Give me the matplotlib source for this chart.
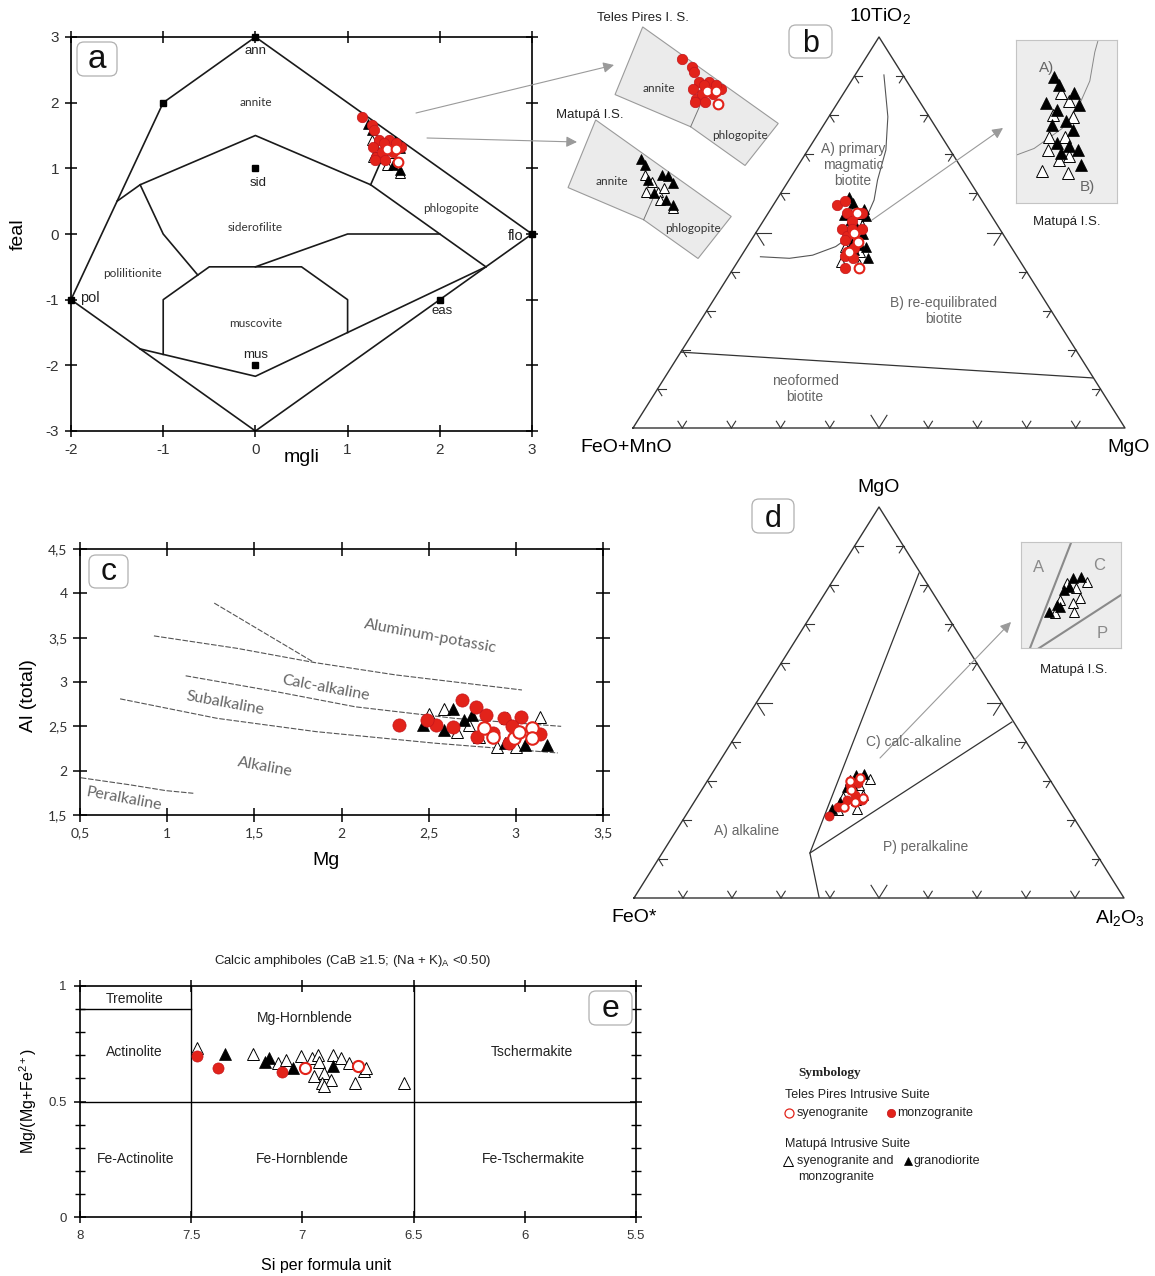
import numpy as np
import matplotlib
matplotlib.use("Agg")
import matplotlib.pyplot as plt
from matplotlib.patches import Polygon, FancyBboxPatch
from matplotlib.ticker import FuncFormatter, MultipleLocator

W, H = 1155, 1276
plt.rcParams['font.family'] = ['Liberation Sans', 'DejaVu Sans']
plt.rcParams['mathtext.fontset'] = 'custom'
plt.rcParams['mathtext.rm'] = 'Liberation Sans'
plt.rcParams['mathtext.it'] = 'Liberation Sans:italic'
plt.rcParams['axes.linewidth'] = 1.2
plt.rcParams['axes.unicode_minus'] = False

RED = '#e2231a'
GREY_TXT = '#666666'
CALIBRI = ['Lato', 'DejaVu Sans']

# ---------------- data ----------------
# (a) mgli / feal
a_tp_mz_mgli = [1.16, 1.26, 1.29, 1.34, 1.28, 1.31, 1.37, 1.45, 1.49, 1.58, 1.30, 1.41, 1.39, 1.53, 1.44]
a_tp_mz_feal = [1.78, 1.66, 1.58, 1.43, 1.33, 1.18, 1.25, 1.43, 1.25, 1.33, 1.13, 1.13, 1.38, 1.38, 1.30]
a_tp_sy_mgli = [1.43, 1.53, 1.55]
a_tp_sy_feal = [1.30, 1.30, 1.09]
a_mt_gd_mgli = [1.22, 1.27, 1.30, 1.45, 1.51, 1.57, 1.36, 1.49, 1.57]
a_mt_gd_feal = [1.67, 1.58, 1.36, 1.43, 1.41, 1.31, 1.15, 1.05, 0.97]
a_mt_sm_mgli = [1.26, 1.34, 1.41, 1.47, 1.28, 1.57, 1.43]
a_mt_sm_feal = [1.43, 1.33, 1.18, 1.23, 1.18, 0.93, 1.05]

# (a) field boundaries
a_outer = [(0, 3), (-1, 2), (-2, -1), (0, -3), (3, 0), (0, 3)]
a_upper = [(-1.5, 0.5), (-1.25, 0.75), (0, 1.5), (1.25, 0.75), (2.5, -0.5)]
a_tie = [(1.25, 0.75), (1.35, 1.07)]
a_left = [(-1.25, 0.75), (-1, 0), (-0.625, -0.625)]
a_mus = [(-1, -1.833), (-1, -1), (-0.5, -0.5), (0.5, -0.5), (1, -1), (1, -1.5)]
a_lower = [(-1.25, -1.75), (0, -2.167), (2.5, -0.5)]
a_mid = [(0, -0.5), (1, 0), (2, 0)]
a_inset_region = [(0.73, 2.27), (2.2, 0.8), (1.84, 0.16), (1.25, 0.75), (0.43, 1.24)]

a_end_names = ['ann', 'sid', 'mus', 'eas', 'flo', 'pol']
a_end_mgli = [0, 0, 0, 2, 3, -2]
a_end_feal = [3, 1, -2, -1, 0, -1]
a_sq_mgli = [-1, 0, 0, 2, 0, 3, -2]
a_sq_feal = [2, 1, -2, -1, 3, 0, -1]
a_fields = ['annite', 'siderofilite', 'phlogopite', 'polilitionite', 'muscovite']
a_field_mgli = [0.0, 0.0, 2.12, -1.33, 0.0]
a_field_feal = [2.01, 0.10, 0.39, -0.60, -1.36]

# (b) 10TiO2 - (FeO+MnO) - MgO, values in % (top = TiO2, right = MgO)
b_tp_mz_t = [57, 55, 53, 51, 51, 49, 48, 46, 45, 44, 43.5, 41, 51, 55, 58]
b_tp_mz_r = [13, 16, 18, 17, 21, 19, 19, 22, 21, 21, 23, 22.5, 19, 19, 14]
b_tp_sy_t = [55, 50, 47.5, 45, 41]
b_tp_sy_r = [18, 20, 22, 21.5, 25.5]
b_mt_gd_t = [57.6, 56.1, 54.4, 54.1, 53.2, 50.6, 51.2, 49.7, 47.3, 46.8, 46.2, 45.6, 59, 43.5]
b_mt_gd_r = [15.9, 18.8, 15.6, 20.4, 17.8, 18.4, 20.0, 21.8, 20.8, 22.7, 24.3, 22.2, 14.5, 26]
b_mt_sm_t = [56.1, 54.7, 52.3, 52.0, 46.2, 44.4, 45.0, 48.5, 48.5, 42.5, 42]
b_mt_sm_r = [16.9, 18.7, 17.7, 20.6, 20.0, 22.5, 23.6, 21.3, 19.1, 21, 25]
b_curve_x = [.510, .518, .514, .497, .490, .475, .451, .412, .365, .318, .259]
b_curve_y = [.903, .796, .711, .634, .583, .540, .499, .464, .442, .434, .438]
b_line_x = [.0976, .935]
b_line_y = [.194, .128]

# (c) Mg vs Al(total)
c_tp_mz_mg = [2.33, 2.69, 2.77, 2.54, 2.83, 2.93, 3.03, 3.14, 2.96, 2.87, 2.64, 2.78, 2.98, 2.49]
c_tp_mz_al = [2.51, 2.80, 2.72, 2.52, 2.63, 2.59, 2.60, 2.41, 2.31, 2.42, 2.49, 2.38, 2.50, 2.57]
c_tp_sy_mg = [2.82, 2.87, 2.99, 3.09, 3.09, 3.02]
c_tp_sy_al = [2.48, 2.38, 2.37, 2.48, 2.37, 2.44]
c_mt_gd_mg = [2.64, 2.59, 2.75, 2.94, 3.05, 3.18, 2.47, 2.70]
c_mt_gd_al = [2.69, 2.46, 2.63, 2.31, 2.29, 2.29, 2.52, 2.57]
c_mt_sm_mg = [2.59, 2.73, 2.89, 3.14, 2.95, 3.00, 2.79, 2.50, 2.66]
c_mt_sm_al = [2.69, 2.52, 2.27, 2.61, 2.59, 2.27, 2.38, 2.64, 2.44]
c_bounds = [
    ([0.924, 1.40, 1.843, 2.31, 3.035], [3.52, 3.38, 3.22, 3.08, 2.91]),
    ([1.27, 1.843], [3.89, 3.22]),
    ([1.106, 1.628, 2.08, 2.65, 3.26], [3.07, 2.89, 2.72, 2.59, 2.50]),
    ([0.73, 1.287, 1.855, 2.535, 3.24], [2.81, 2.59, 2.44, 2.31, 2.20]),
    ([0.505, 0.788, 0.992, 1.15], [1.92, 1.84, 1.775, 1.745]),
]
c_fields = ['Aluminum-potassic', 'Calc-alkaline', 'Subalkaline', 'Alkaline', 'Peralkaline']
c_field_mg = [2.51, 1.91, 1.33, 1.56, 0.75]
c_field_al = [3.51, 2.93, 2.76, 2.04, 1.68]

# (d) MgO - FeO* - Al2O3, values in % (top = MgO, right = Al2O3)
d_tp_mz_t = [21, 23.3, 25, 26.3, 29, 29.4, 25]
d_tp_mz_r = [29.3, 30, 31, 32, 29.6, 31, 34]
d_tp_sy_t = [30, 30.7, 27.6, 24.5, 25.6, 23.3]
d_tp_sy_r = [29, 30.8, 30.5, 32.8, 34, 31.2]
d_mt_gd_t = [22.8, 24.6, 24.1, 31.5, 31.8, 28.4, 29.2]
d_mt_gd_r = [29.1, 29.7, 30.6, 29.5, 31.1, 29.2, 29.9]
d_mt_sm_t = [30.2, 28.9, 30.5, 26.3, 25.1, 25.8, 22.8, 22.5]
d_mt_sm_r = [29.0, 31.5, 32.9, 33.5, 32.7, 29.7, 34.1, 30.4]
d_line1_x = [.5816, .359, .378]
d_line1_y = [.831, .115, 0.0]
d_line2_x = [.359, .771]
d_line2_y = [.115, .450]

# (e) amphiboles: Si vs Mg/(Mg+Fe2+)
e_tp_mz_si = [7.475, 7.379, 7.091]
e_tp_mz_mg = [0.699, 0.647, 0.627]
e_tp_sy_si = [6.987, 6.75]
e_tp_sy_mg = [0.647, 0.652]
e_mt_gd_si = [7.347, 7.148, 7.167, 7.044, 6.864]
e_mt_gd_mg = [0.705, 0.688, 0.673, 0.645, 0.655]
e_mt_sm_si = [7.475, 7.223, 7.11, 7.006, 6.958, 6.93, 6.926, 6.949, 6.902, 6.911, 6.873, 6.902,
              6.864, 6.826, 6.792, 6.722, 6.763, 6.545, 7.072, 6.712]
e_mt_sm_mg = [0.731, 0.705, 0.666, 0.695, 0.688, 0.702, 0.673, 0.612, 0.623, 0.58, 0.594, 0.565,
              0.702, 0.688, 0.666, 0.630, 0.58, 0.58, 0.681, 0.645]
e_fields = ['Tremolite', 'Actinolite', 'Mg-Hornblende', 'Tschermakite',
            'Fe-Actinolite', 'Fe-Hornblende', 'Fe-Tschermakite']
e_field_si = [7.754, 7.754, 6.99, 5.97, 7.75, 7.0, 5.96]
e_field_mg = [0.944, 0.714, 0.86, 0.714, 0.249, 0.249, 0.249]

STY = {
    'tp_sy': dict(marker='o', mfc='white', mec=RED, mew=1.5),
    'tp_mz': dict(marker='o', mfc=RED, mec='#c4161c', mew=0.5),
    'mt_sm': dict(marker='^', mfc='white', mec='black', mew=0.7),
    'mt_gd': dict(marker='^', mfc='black', mec='black', mew=0.5),
}


def pts(ax, x, y, kind, ms, z=3):
    ax.plot(x, y, ls='none', ms=ms, zorder=z, **STY[kind])


def tern(t, r):
    t = np.asarray(t) / 100.0
    r = np.asarray(r) / 100.0
    return r + t / 2, t


fig = plt.figure(figsize=(W / 100, H / 100), dpi=100)


def px_axes(l, t, r, b):
    return fig.add_axes([l / W, 1 - b / H, (r - l) / W, (b - t) / H])


# ---------------- (a) ----------------
axa = px_axes(71, 37, 532, 431)
axa.set_xlim(-2, 3)
axa.set_ylim(-3, 3)
axa.set_xticks(range(-2, 4))
axa.set_yticks(range(-3, 4))
axa.tick_params(direction='inout', length=9, width=1.1, top=True, right=True,
                labelsize=11, labelcolor='#333333', pad=4)
for seg in [a_outer, a_upper, a_tie, a_left, a_mus, a_lower, a_mid]:
    xs, ys = zip(*seg)
    axa.plot(xs, ys, color='#1a1a1a', lw=1.2, zorder=2)
axa.plot(a_sq_mgli, a_sq_feal, ls='none', marker='s', ms=5, color='black', zorder=3, clip_on=False)
lab_off = {'ann': (0, -0.21, 'center'), 'sid': (0.03, -0.22, 'center'), 'mus': (0, 0.16, 'center'),
           'eas': (0.02, -0.17, 'center'), 'flo': (-0.18, -0.03, 'center'), 'pol': (0.1, 0.02, 'left')}
for n, x, y in zip(a_end_names, a_end_mgli, a_end_feal):
    dx, dy, ha = lab_off[n]
    axa.text(x + dx, y + dy, n, fontsize=10.5 if n in ('pol', 'flo') else 9.5,
             ha=ha, va='center', color='#222222')
for n, x, y in zip(a_fields, a_field_mgli, a_field_feal):
    axa.text(x, y, n, fontsize=8.5, family=CALIBRI, ha='center', va='center', color='#333333')
pts(axa, a_mt_sm_mgli, a_mt_sm_feal, 'mt_sm', 7.5)
pts(axa, a_mt_gd_mgli, a_mt_gd_feal, 'mt_gd', 7.5)
pts(axa, a_tp_mz_mgli, a_tp_mz_feal, 'tp_mz', 7.5, z=4)
pts(axa, a_tp_sy_mgli, a_tp_sy_feal, 'tp_sy', 7, z=5)
axa.set_xlabel('mgli', fontsize=14)
axa.set_ylabel('feal', fontsize=14)
axa.xaxis.set_label_coords(0.5, -0.068)
axa.xaxis.label.set_va('center')
axa.yaxis.set_label_coords(-0.115, 0.5)
axa.yaxis.label.set_va('center')


def a_inset(dx, dy, groups):
    ax = px_axes(71 + dx, 37 + dy, 532 + dx, 431 + dy)
    ax.set_xlim(-2, 3)
    ax.set_ylim(-3, 3)
    ax.axis('off')
    ax.add_patch(Polygon(a_inset_region, closed=True, fc='#ebebeb', ec='#9a9a9a', lw=0.8))
    xs, ys = zip(*a_tie)
    ax.plot(xs, ys, color='#777777', lw=0.7)
    ax.text(0.9, 1.33, 'annite', fontsize=8.5, family=CALIBRI, ha='center', va='center', color='#333333')
    ax.text(1.78, 0.62, 'phlogopite', fontsize=8.5, family=CALIBRI, ha='center', va='center', color='#333333')
    for x, y, kind, ms in groups:
        pts(ax, x, y, kind, ms)


a_inset(320, -58, [(a_tp_mz_mgli, a_tp_mz_feal, 'tp_mz', 7.5), (a_tp_sy_mgli, a_tp_sy_feal, 'tp_sy', 7)])
a_inset(273, 35, [(a_mt_sm_mgli, a_mt_sm_feal, 'mt_sm', 7.5), (a_mt_gd_mgli, a_mt_gd_feal, 'mt_gd', 7.5)])


# ---------------- ternary helpers ----------------
def tern_frame(ax, wpx, hpx):
    ax.set_xlim(0, 1)
    ax.set_ylim(0, 1)
    ax.axis('off')
    ax.plot([0, 1, 0.5, 0], [0, 0, 1, 0], color='#333333', lw=1.0, clip_on=False)

    def arm(dx, dy, L):
        n = np.hypot(dx * wpx, dy * hpx)
        return dx * L / n, dy * L / n

    for i in range(1, 10):
        f = i / 10
        L = 15 if i == 5 else 8
        for (x0, y0), dirs in [((f, 0), [(0.5, 1), (-0.5, 1)]),
                               ((0.5 * f, f), [(1, 0), (0.5, -1)]),
                               ((1 - 0.5 * f, f), [(-1, 0), (-0.5, -1)])]:
            for dx, dy in dirs:
                u, v = arm(dx, dy, L)
                ax.plot([x0, x0 + u], [y0, y0 + v], color='#333333', lw=0.8, clip_on=False)


# ---------------- (b) ----------------
axb = px_axes(633, 37, 1125, 428)
tern_frame(axb, 492, 391)
axb.plot(b_curve_x, b_curve_y, color='#555555', lw=0.8)
axb.plot(b_line_x, b_line_y, color='#333333', lw=0.9)
for t, r, kind in [(b_mt_sm_t, b_mt_sm_r, 'mt_sm'), (b_mt_gd_t, b_mt_gd_r, 'mt_gd'),
                   (b_tp_mz_t, b_tp_mz_r, 'tp_mz'), (b_tp_sy_t, b_tp_sy_r, 'tp_sy')]:
    x, y = tern(t, r)
    pts(axb, x, y, kind, 7.5 if kind != 'tp_sy' else 7, z=4 if kind.startswith('tp') else 3)

axbi = px_axes(1016, 40, 1117, 203)
axbi.set_facecolor('#ededed')
axbi.set_xlim(0.3866, 0.5281)
axbi.set_ylim(0.3678, 0.6553)
axbi.set_xticks([])
axbi.set_yticks([])
for s in axbi.spines.values():
    s.set_color('#c4c4c4')
    s.set_linewidth(0.8)
axbi.plot(b_curve_x, b_curve_y, color='#888888', lw=0.7)
for t, r, kind in [(b_mt_sm_t, b_mt_sm_r, 'mt_sm'), (b_mt_gd_t, b_mt_gd_r, 'mt_gd')]:
    x, y = tern(t, r)
    pts(axbi, x, y, kind, 8)
axbi.text(0.30, 0.83, 'A)', transform=axbi.transAxes, fontsize=11, color=GREY_TXT, ha='center', va='center')
axbi.text(0.71, 0.10, 'B)', transform=axbi.transAxes, fontsize=11, color=GREY_TXT, ha='center', va='center')

# ---------------- (c) ----------------
axc = px_axes(80, 549, 603, 815)
axc.set_xlim(0.5, 3.5)
axc.set_ylim(1.5, 4.5)
axc.set_xticks(np.arange(0.5, 3.51, 0.5))
axc.set_yticks(np.arange(1.5, 4.51, 0.5))
comma = FuncFormatter(lambda v, p: f'{v:g}'.replace('.', ','))
axc.xaxis.set_major_formatter(comma)
axc.yaxis.set_major_formatter(comma)
axc.tick_params(direction='inout', length=10, width=1.1, top=True, right=True,
                labelsize=10, labelcolor='#333333', pad=4)
for lab in axc.get_xticklabels() + axc.get_yticklabels():
    lab.set_family(CALIBRI)
for xs, ys in c_bounds:
    axc.plot(xs, ys, color='#555555', lw=0.8, ls=(0, (5, 1.5)))
for n, x, y in zip(c_fields, c_field_mg, c_field_al):
    axc.text(x, y, n, fontsize=11.5, family=CALIBRI, color=GREY_TXT, rotation=-10.5,
             ha='center', va='center', rotation_mode='anchor')
pts(axc, c_mt_sm_mg, c_mt_sm_al, 'mt_sm', 9)
pts(axc, c_mt_gd_mg, c_mt_gd_al, 'mt_gd', 9)
pts(axc, c_tp_mz_mg, c_tp_mz_al, 'tp_mz', 9.5, z=4)
pts(axc, c_tp_sy_mg, c_tp_sy_al, 'tp_sy', 9, z=5)
axc.set_xlabel('Mg', fontsize=14)
axc.set_ylabel('Al (total)', fontsize=14)
axc.xaxis.set_label_coords(0.47, -0.17)
axc.xaxis.label.set_va('center')
axc.yaxis.set_label_coords(-0.099, 0.45)
axc.yaxis.label.set_va('center')

# ---------------- (d) ----------------
axd = px_axes(634, 507, 1124, 898)
tern_frame(axd, 490, 391)
axd.plot(d_line1_x, d_line1_y, color='#333333', lw=0.9)
axd.plot(d_line2_x, d_line2_y, color='#333333', lw=0.9)
for t, r, kind in [(d_mt_sm_t, d_mt_sm_r, 'mt_sm'), (d_mt_gd_t, d_mt_gd_r, 'mt_gd'),
                   (d_tp_mz_t, d_tp_mz_r, 'tp_mz'), (d_tp_sy_t, d_tp_sy_r, 'tp_sy')]:
    x, y = tern(t, r)
    pts(axd, x, y, kind, 6.5 if kind != 'tp_sy' else 6, z=4 if kind.startswith('tp') else 3)

axdi = px_axes(1021, 542, 1121, 648)
axdi.set_facecolor('#ededed')
axdi.set_xlim(0.3469, 0.5510)
axdi.set_ylim(0.1355, 0.4066)
axdi.set_xticks([])
axdi.set_yticks([])
for s in axdi.spines.values():
    s.set_color('#c4c4c4')
    s.set_linewidth(0.8)
axdi.plot(d_line1_x, d_line1_y, color='#8a8a8a', lw=1.5)
axdi.plot(d_line2_x, d_line2_y, color='#8a8a8a', lw=1.5)
for t, r, kind in [(d_mt_sm_t, d_mt_sm_r, 'mt_sm'), (d_mt_gd_t, d_mt_gd_r, 'mt_gd')]:
    x, y = tern(t, r)
    pts(axdi, x, y, kind, 6.5)
for s, x, y in [('A', 0.18, 0.76), ('C', 0.78, 0.78), ('P', 0.81, 0.14)]:
    axdi.text(x, y, s, transform=axdi.transAxes, fontsize=12, color='#8a8a8a', ha='center', va='center')

# ---------------- (e) ----------------
axe = px_axes(80, 986, 636, 1217)
axe.set_xlim(8, 5.5)
axe.set_ylim(0, 1)
axe.set_xticks([8, 7.5, 7, 6.5, 6, 5.5])
axe.set_yticks([0, 0.5, 1])
gfmt = FuncFormatter(lambda v, p: f'{v:g}')
axe.xaxis.set_major_formatter(gfmt)
axe.yaxis.set_major_formatter(gfmt)
axe.yaxis.set_minor_locator(MultipleLocator(0.1))
axe.tick_params(which='major', direction='inout', length=9, width=1.1, top=True, right=True,
                labelsize=9.5, labelcolor='#333333', pad=5)
axe.tick_params(which='minor', axis='y', direction='inout', length=7, width=1.0, right=True, left=True)
axe.axvline(7.5, color='black', lw=1.0)
axe.axvline(6.5, color='black', lw=1.0)
axe.axhline(0.5, color='black', lw=1.0)
axe.plot([8, 7.5], [0.9, 0.9], color='black', lw=1.0)
for n, x, y in zip(e_fields, e_field_si, e_field_mg):
    axe.text(x, y, n, fontsize=10, ha='center', va='center', color='#222222')
pts(axe, e_mt_sm_si, e_mt_sm_mg, 'mt_sm', 8)
pts(axe, e_mt_gd_si, e_mt_gd_mg, 'mt_gd', 8)
pts(axe, e_tp_mz_si, e_tp_mz_mg, 'tp_mz', 8, z=4)
pts(axe, e_tp_sy_si, e_tp_sy_mg, 'tp_sy', 8, z=4)
axe.set_title('Calcic amphiboles (CaB \u22651.5; (Na + K)$_{\\mathrm{A}}$ <0.50)', fontsize=9.5,
              x=0.491, y=1.06, color='#222222')
axe.set_xlabel('Si per formula unit', fontsize=11.5)
axe.set_ylabel('Mg/(Mg+Fe$^{2+}$)', fontsize=11.5)
axe.xaxis.set_label_coords(0.443, -0.212)
axe.xaxis.label.set_va('center')
axe.yaxis.set_label_coords(-0.094, 0.5)
axe.yaxis.label.set_va('center')

# ---------------- overlay: labels, arrows, legend ----------------
ov = fig.add_axes([0, 0, 1, 1])
ov.set_xlim(0, W)
ov.set_ylim(H, 0)
ov.axis('off')
ov.set_zorder(20)


def T(x, y, s, **kw):
    kw.setdefault('ha', 'center')
    kw.setdefault('va', 'center')
    ov.text(x, y, s, **kw)


for (x0, y0, w, h), letter, base, fs in [((77, 42, 40, 34), 'a', 68, 24), ((789, 25, 43, 33), 'b', 52, 22),
                                         ((89, 555, 39, 33), 'c', 580, 23), ((752, 499, 42, 34), 'd', 527, 22),
                                         ((589, 991, 43, 34), 'e', 1017, 23)]:
    ov.add_patch(FancyBboxPatch((x0, y0), w, h, boxstyle='round,pad=0,rounding_size=7',
                                fc='white', ec='#b0b0b0', lw=0.9))
    T(x0 + w / 2, base, letter, fontsize=fs, va='baseline', color='#111111')

arrow = dict(arrowstyle='-|>', color='#9a9a9a', lw=0.8, mutation_scale=16, shrinkA=0, shrinkB=0)
for tail, head in [((416, 113), (614, 65)), ((427, 138), (577, 142)),
                   ((872, 220), (1003, 128)), ((880, 758), (1011, 622))]:
    ov.annotate('', xy=head, xytext=tail, arrowprops=arrow)

T(643, 18, 'Teles Pires I. S.', fontsize=9.5, color='#222222')
T(590, 115, 'Matupá I.S.', fontsize=9.5, color='#222222')
T(1067, 222, 'Matupá I.S.', fontsize=9.5, color='#222222')
T(1074, 670, 'Matupá I.S.', fontsize=9.5, color='#222222')

T(880, 16, '10TiO$_2$', fontsize=14)
T(626, 447, 'FeO+MnO', fontsize=14)
T(1129, 447, 'MgO', fontsize=14)
T(853, 165, 'A) primary\nmagmatic\nbiotite', fontsize=10, color=GREY_TXT, linespacing=1.15)
T(944, 311, 'B) re-equilibrated\nbiotite', fontsize=10, color=GREY_TXT, linespacing=1.15)
T(805, 389, 'neoformed\nbiotite', fontsize=10, color=GREY_TXT, linespacing=1.15)

T(879, 488, 'MgO', fontsize=14)
T(634, 918, 'FeO*', fontsize=14)
T(1120, 918, 'Al$_2$O$_3$', fontsize=14)
T(914, 742, 'C) calc-alkaline', fontsize=10, color=GREY_TXT)
T(747, 831, 'A) alkaline', fontsize=10, color=GREY_TXT)
T(926, 847, 'P) peralkaline', fontsize=10, color=GREY_TXT)

# legend
T(798, 1073, 'Symbology', fontsize=9.5, ha='left', family=['Liberation Serif', 'DejaVu Serif'],
  weight='bold', color='#222222')
T(785, 1095, 'Teles Pires Intrusive Suite', fontsize=9, ha='left', color='#222222')
T(785, 1144, 'Matupá Intrusive Suite', fontsize=9, ha='left', color='#222222')
for (x, y), kind, ms in [((789, 1113), 'tp_sy', 6.5), ((891, 1113), 'tp_mz', 6),
                         ((788, 1161), 'mt_sm', 6.5), ((908, 1161), 'mt_gd', 6)]:
    st = dict(STY[kind])
    if kind == 'tp_sy':
        st['mew'] = 0.9
    ov.plot([x], [y], ls='none', ms=ms, **st)
T(797, 1113, 'syenogranite', fontsize=9, ha='left', color='#222222')
T(897, 1113, 'monzogranite', fontsize=9, ha='left', color='#222222')
T(797, 1161, 'syenogranite and', fontsize=9, ha='left', color='#222222')
T(798, 1177, 'monzogranite', fontsize=9, ha='left', color='#222222')
T(914, 1161, 'granodiorite', fontsize=9, ha='left', color='#222222')

fig.savefig('out.png', dpi=100)
